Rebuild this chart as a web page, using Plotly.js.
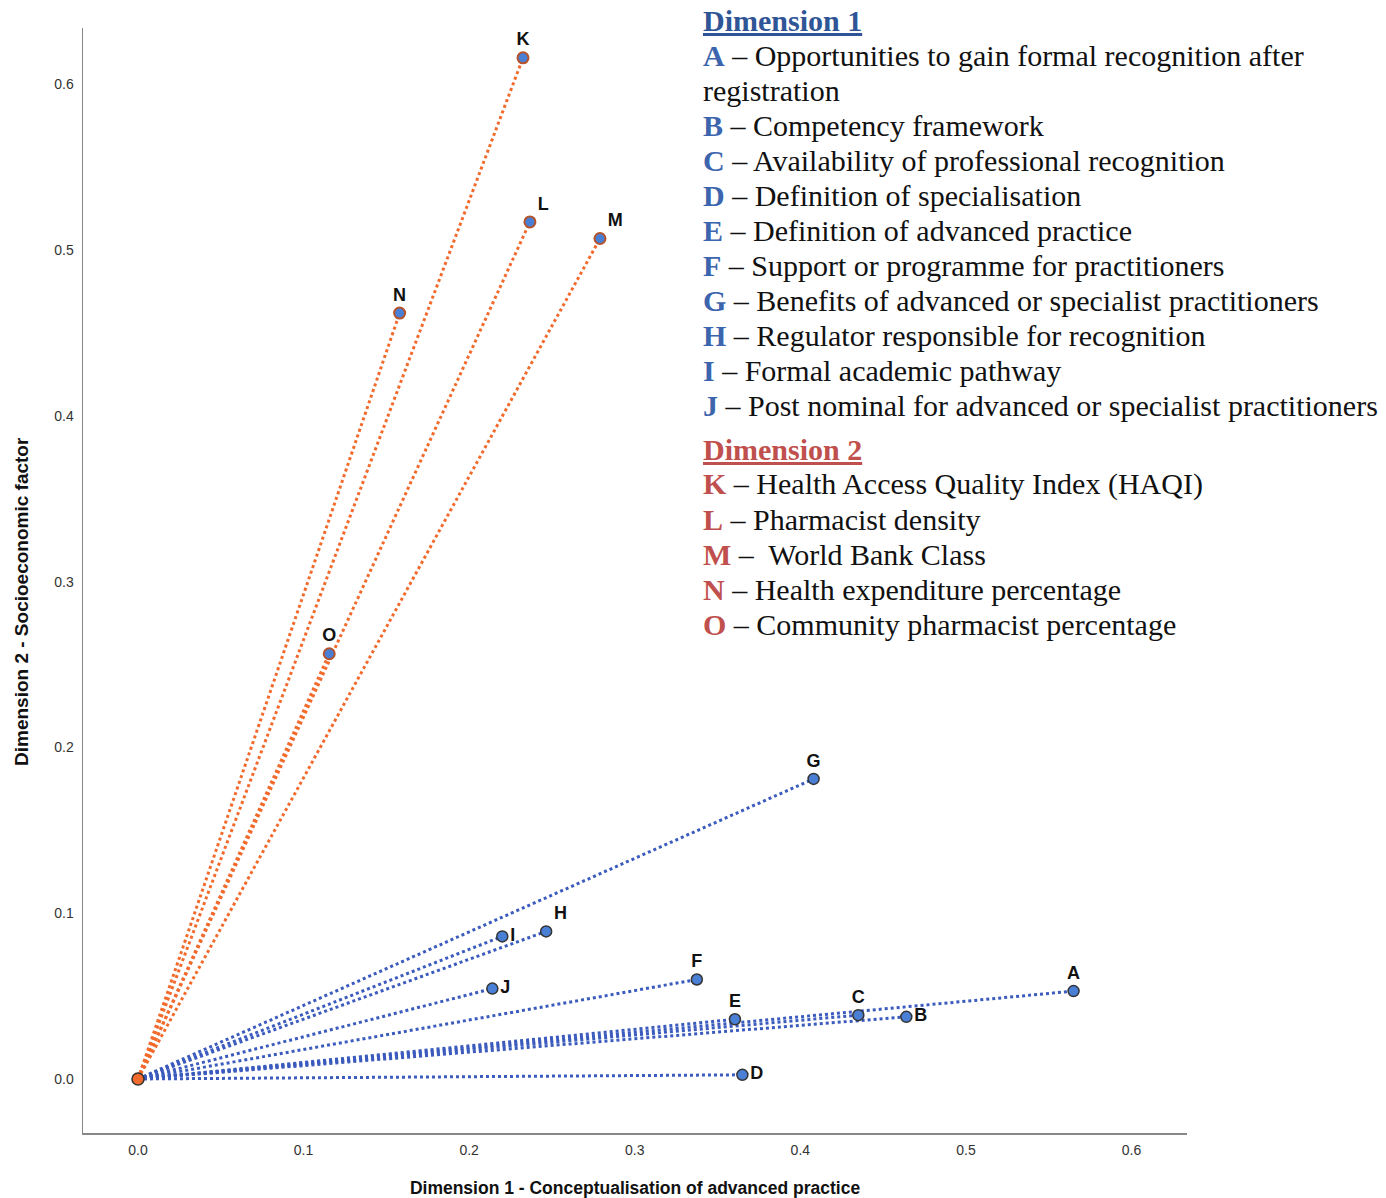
<!DOCTYPE html>
<html>
<head>
<meta charset="utf-8">
<script src="https://cdn.plot.ly/plotly-3.0.1.min.js"></script>
<style>html,body{margin:0;padding:0;background:#fff;}#chart{width:1386px;height:1198px;}</style>
</head>
<body>
<div id="chart"></div>
<script>
// Dimension 1 variables (blue)
const labels1 = ["A","B","C","D","E","F","G","H","I","J"];
const x1 = [0.565, 0.464, 0.435, 0.365, 0.3605, 0.3375, 0.408, 0.2465, 0.220, 0.214];
const y1 = [0.053, 0.0375, 0.0385, 0.0025, 0.036, 0.060, 0.181, 0.089, 0.086, 0.0545];
const pos1 = ["top center","middle right","top center","middle right","top center","top center","top center","top right","middle right","middle right"];
const desc1 = ["Opportunities to gain formal recognition after<br>registration","Competency framework","Availability of professional recognition","Definition of specialisation","Definition of advanced practice","Support or programme for practitioners","Benefits of advanced or specialist practitioners","Regulator responsible for recognition","Formal academic pathway","Post nominal for advanced or specialist practitioners"];

// Dimension 2 variables (orange)
const labels2 = ["K","L","M","N","O"];
const x2 = [0.2325, 0.2367, 0.279, 0.158, 0.1155];
const y2 = [0.616, 0.517, 0.507, 0.462, 0.2565];
const pos2 = ["top center","top right","top right","top center","top center"];
const desc2 = ["Health Access Quality Index (HAQI)","Pharmacist density"," World Bank Class","Health expenditure percentage","Community pharmacist percentage"];

const xTicks = [0.0,0.1,0.2,0.3,0.4,0.5,0.6];
const yTicks = [0.0,0.1,0.2,0.3,0.4,0.5,0.6];

const blueLine = "#3b5bbd", orangeLine = "#f26a2c", markerBlue = "#4a7fd6";
const sans = "Liberation Sans, Arial";
const traces = [];
labels1.forEach((l,i)=>{
  traces.push({x:[0,x1[i]], y:[0,y1[i]], mode:"lines", line:{color:blueLine,width:3,dash:"dot"}, hoverinfo:"skip", showlegend:false});
});
labels2.forEach((l,i)=>{
  traces.push({x:[0,x2[i]], y:[0,y2[i]], mode:"lines", line:{color:orangeLine,width:3,dash:"dot"}, hoverinfo:"skip", showlegend:false});
});
traces.push({x:x1, y:y1, text:labels1, textposition:pos1, mode:"markers+text", cliponaxis:false,
  marker:{size:11,color:markerBlue,line:{color:"#333",width:1.5}},
  textfont:{family:sans,size:18,color:"#111"}, texttemplate:"<b>%{text}</b>", showlegend:false});
traces.push({x:x2, y:y2, text:labels2, textposition:pos2, mode:"markers+text", cliponaxis:false,
  marker:{size:11,color:markerBlue,line:{color:"#b5532b",width:2}},
  texttemplate:"<b>%{text}</b>",
  textfont:{family:sans,size:18,color:"#111"}, showlegend:false});
traces.push({x:[0], y:[0], mode:"markers", marker:{size:12,color:orangeLine,line:{color:"#333",width:1.5}}, showlegend:false, hoverinfo:"skip"});

// legend annotations
const L = 83, T = 28, W = 1104, H = 1105;
const px = v => (v - L)/W;
const py = v => (T + H - v)/H;
const ann = [];
const serif = "Liberation Serif, Times New Roman, serif";
const blueTxt = "#3d65ad", redTxt = "#c0504d";
const FS = 30;
ann.push({xref:"paper",yref:"paper",x:px(701),y:py(20),xanchor:"left",yanchor:"middle",showarrow:false,
  text:'<b><span style="text-decoration:underline">Dimension 1</span></b>',font:{family:serif,size:FS,color:"#2f5597"}});
let yy = 55;
labels1.forEach((l,i)=>{
  const lines = desc1[i].split("<br>");
  ann.push({xref:"paper",yref:"paper",x:px(701),y:py(yy),xanchor:"left",yanchor:"middle",showarrow:false,align:"left",
    text:'<b><span style="color:'+blueTxt+'">'+l+'</span></b> – '+lines[0],font:{family:serif,size:FS,color:"#111"}});
  yy += 35;
  if(lines.length>1){
    ann.push({xref:"paper",yref:"paper",x:px(701),y:py(yy),xanchor:"left",yanchor:"middle",showarrow:false,align:"left",
      text:lines[1],font:{family:serif,size:FS,color:"#111"}});
    yy += 35;
  }
});
ann.push({xref:"paper",yref:"paper",x:px(701),y:py(449),xanchor:"left",yanchor:"middle",showarrow:false,
  text:'<b><span style="text-decoration:underline">Dimension 2</span></b>',font:{family:serif,size:FS,color:redTxt}});
yy = 484;
labels2.forEach((l,i)=>{
  ann.push({xref:"paper",yref:"paper",x:px(701),y:py(yy),xanchor:"left",yanchor:"middle",showarrow:false,align:"left",
    text:'<b><span style="color:'+redTxt+'">'+l+'</span></b> – '+desc2[i],font:{family:serif,size:FS,color:"#111"}});
  yy += 35;
});
// y axis title (placed slightly below centre as in the original)
ann.push({xref:"paper",yref:"paper",x:px(22),y:py(602),xanchor:"center",yanchor:"middle",showarrow:false,textangle:-90,
  text:"<b>Dimension 2 - Socioeconomic factor</b>",font:{family:sans,size:19,color:"#111"}});

const layout = {
  width:1386, height:1198,
  margin:{l:83, r:199, t:28, b:65},
  paper_bgcolor:"#fff", plot_bgcolor:"#fff",
  showlegend:false,
  xaxis:{range:[-0.0332,0.6335], tickvals:xTicks, ticktext:xTicks.map(v=>v.toFixed(1)),
    showgrid:false, zeroline:false, showline:true, linecolor:"#888", linewidth:1.5, ticks:"",
    ticklabelstandoff:4,
    tickfont:{family:sans,size:14,color:"#333"},
    title:{text:"<b>Dimension 1 - Conceptualisation of advanced practice</b>",font:{family:sans,size:17.5,color:"#111"},standoff:26}},
  yaxis:{range:[-0.0326,0.634], tickvals:yTicks, ticktext:yTicks.map(v=>v.toFixed(1)),
    showgrid:false, zeroline:false, showline:true, linecolor:"#888", linewidth:1.5, ticks:"",
    ticklabelstandoff:5,
    tickfont:{family:sans,size:14,color:"#333"}},
  annotations: ann
};
Plotly.newPlot("chart", traces, layout, {staticPlot:true});
</script>
</body>
</html>
